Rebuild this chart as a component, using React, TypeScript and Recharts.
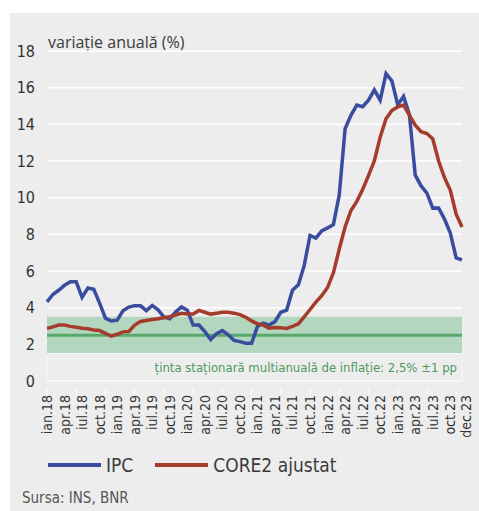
import {
  LineChart,
  Line,
  XAxis,
  YAxis,
  CartesianGrid,
  ReferenceArea,
  ReferenceLine,
} from "recharts";

const YEARS = ["18", "19", "20", "21", "22", "23"];
const MONTHS = ["ian", "feb", "mar", "apr", "mai", "iun", "iul", "aug", "sep", "oct", "noi", "dec"];
const CATEGORIES = YEARS.flatMap((y) => MONTHS.map((m) => `${m}.${y}`));

// variație anuală, %
const IPC = [
  4.32, 4.72, 4.95, 5.22, 5.41, 5.41, 4.56, 5.07, 5.0, 4.25, 3.43, 3.27,
  3.32, 3.83, 4.03, 4.11, 4.1, 3.84, 4.12, 3.88, 3.49, 3.4, 3.76, 4.04,
  3.86, 3.05, 3.05, 2.7, 2.26, 2.58, 2.75, 2.52, 2.21, 2.15, 2.06, 2.06,
  2.97, 3.15, 3.05, 3.24, 3.75, 3.87, 4.95, 5.25, 6.29, 7.94, 7.8, 8.19,
  8.35, 8.53, 10.15, 13.76, 14.49, 15.05, 14.96, 15.32, 15.88, 15.32, 16.76, 16.37,
  15.07, 15.52, 14.53, 11.23, 10.64, 10.25, 9.43, 9.44, 8.83, 8.07, 6.72, 6.61,
];

const CORE2 = [
  2.87, 2.95, 3.05, 3.05, 2.98, 2.93, 2.88, 2.85, 2.78, 2.75, 2.6, 2.45,
  2.55, 2.68, 2.7, 3.05, 3.25, 3.3, 3.35, 3.4, 3.45, 3.5, 3.6, 3.69,
  3.65, 3.65, 3.85, 3.75, 3.65, 3.7, 3.75, 3.75, 3.7, 3.62, 3.48, 3.28,
  3.12, 3.05, 2.88, 2.92, 2.9, 2.87, 2.98, 3.12, 3.5, 3.9, 4.3, 4.65,
  5.1, 5.9, 7.2, 8.4, 9.3, 9.8, 10.45, 11.2, 12.0, 13.3, 14.3, 14.75,
  14.95, 15.05, 14.5, 13.95, 13.6, 13.5, 13.2, 12.0, 11.1, 10.4, 9.1, 8.4,
];

const Y_TICKS = [0, 2, 4, 6, 8, 10, 12, 14, 16, 18];
const TARGET = 2.5;
const TARGET_LOW = 1.5;
const TARGET_HIGH = 3.5;
const TARGET_TEXT = "ținta staționară multianuală de inflație: 2,5% ±1 pp";

const data = CATEGORIES.map((label, i) => ({ label, ipc: IPC[i], core2: CORE2[i] }));

const BLUE = "#3a4ca0";
const RED = "#a53b2a";
const NARROW = "'DejaVu Sans Condensed', 'Roboto', sans-serif";
const LAST = CATEGORIES.length - 1;

function MonthTick(props: any) {
  const { x, y, index, payload } = props;
  const showLabel = index % 3 === 0 || index === LAST;
  const showLine = index % 5 === 0;
  // last label sits a little right of its point, as in the original
  const shift = index === LAST ? 4 : 0;
  return (
    <g transform={`translate(${x},${y})`}>
      {showLine && <line x1={0} y1={0} x2={0} y2={5} stroke="#fafafa" strokeWidth={1.5} />}
      {showLabel && (
        <text
          transform="rotate(-90)"
          x={-6}
          y={5 + shift}
          textAnchor="end"
          fontSize={14}
          fontFamily={NARROW}
          fill="#333"
        >
          {payload.value}
        </text>
      )}
    </g>
  );
}

export default function App() {
  return (
    <div style={{ position: "absolute", left: 0, top: 0, width: 479, height: 511, background: "#fff" }}>
      <div
        style={{
          position: "absolute",
          left: 10,
          top: 13,
          width: 469,
          height: 498,
          background: "#ededed",
        }}
      >
        <div
          style={{
            position: "absolute",
            left: 38,
            top: 18,
            fontFamily: "'Open Sans', sans-serif",
            fontSize: 16,
            color: "#3a3a3a",
            whiteSpace: "nowrap",
          }}
        >
          variație anuală (%)
        </div>
        <LineChart
          width={469}
          height={430}
          data={data}
          margin={{ top: 38, right: 17, left: 0, bottom: 0 }}
        >
          <CartesianGrid vertical={false} stroke="#fff" strokeWidth={1.5} />
          <ReferenceArea
            y1={TARGET_LOW}
            y2={TARGET_HIGH}
            fill="#b2d7be"
            fillOpacity={1}
            stroke="none"
          />
          <ReferenceArea
            y1={0}
            y2={TARGET_LOW}
            fill="none"
            stroke="#f7f7f7"
            strokeWidth={1}
            label={{
              value: TARGET_TEXT,
              position: "insideRight",
              offset: 5,
              fill: "#4d9a5c",
              fontSize: 13,
              fontFamily: NARROW,
            }}
          />
          <ReferenceLine y={TARGET} stroke="#58a86b" strokeWidth={3} />
          <XAxis
            dataKey="label"
            interval={0}
            height={62}
            tick={<MonthTick />}
            tickLine={false}
            axisLine={{ stroke: "#f7f7f7", strokeWidth: 1.5 }}
          />
          <YAxis
            domain={[0, 18]}
            ticks={Y_TICKS}
            width={37}
            tickSize={0}
            tickMargin={12}
            axisLine={false}
            tickLine={false}
            tick={{ fontSize: 16, fontFamily: NARROW, fill: "#333" }}
          />
          <Line
            dataKey="ipc"
            stroke={BLUE}
            strokeWidth={3.5}
            dot={false}
            isAnimationActive={false}
          />
          <Line
            dataKey="core2"
            stroke={RED}
            strokeWidth={3.5}
            dot={false}
            isAnimationActive={false}
          />
        </LineChart>
        <div
          style={{
            position: "absolute",
            left: 38,
            top: 441,
            display: "flex",
            alignItems: "center",
            fontFamily: NARROW,
            fontSize: 19,
            color: "#3a3a3a",
          }}
        >
          <span style={{ width: 53, height: 4, background: BLUE, display: "inline-block" }} />
          <span style={{ marginLeft: 5 }}>IPC</span>
          <span
            style={{ width: 53, height: 4, background: RED, display: "inline-block", marginLeft: 22 }}
          />
          <span style={{ marginLeft: 5 }}>CORE2 ajustat</span>
        </div>
        <div
          style={{
            position: "absolute",
            left: 12,
            top: 476,
            fontFamily: NARROW,
            fontSize: 15,
            color: "#555",
          }}
        >
          Sursa: INS, BNR
        </div>
      </div>
    </div>
  );
}
